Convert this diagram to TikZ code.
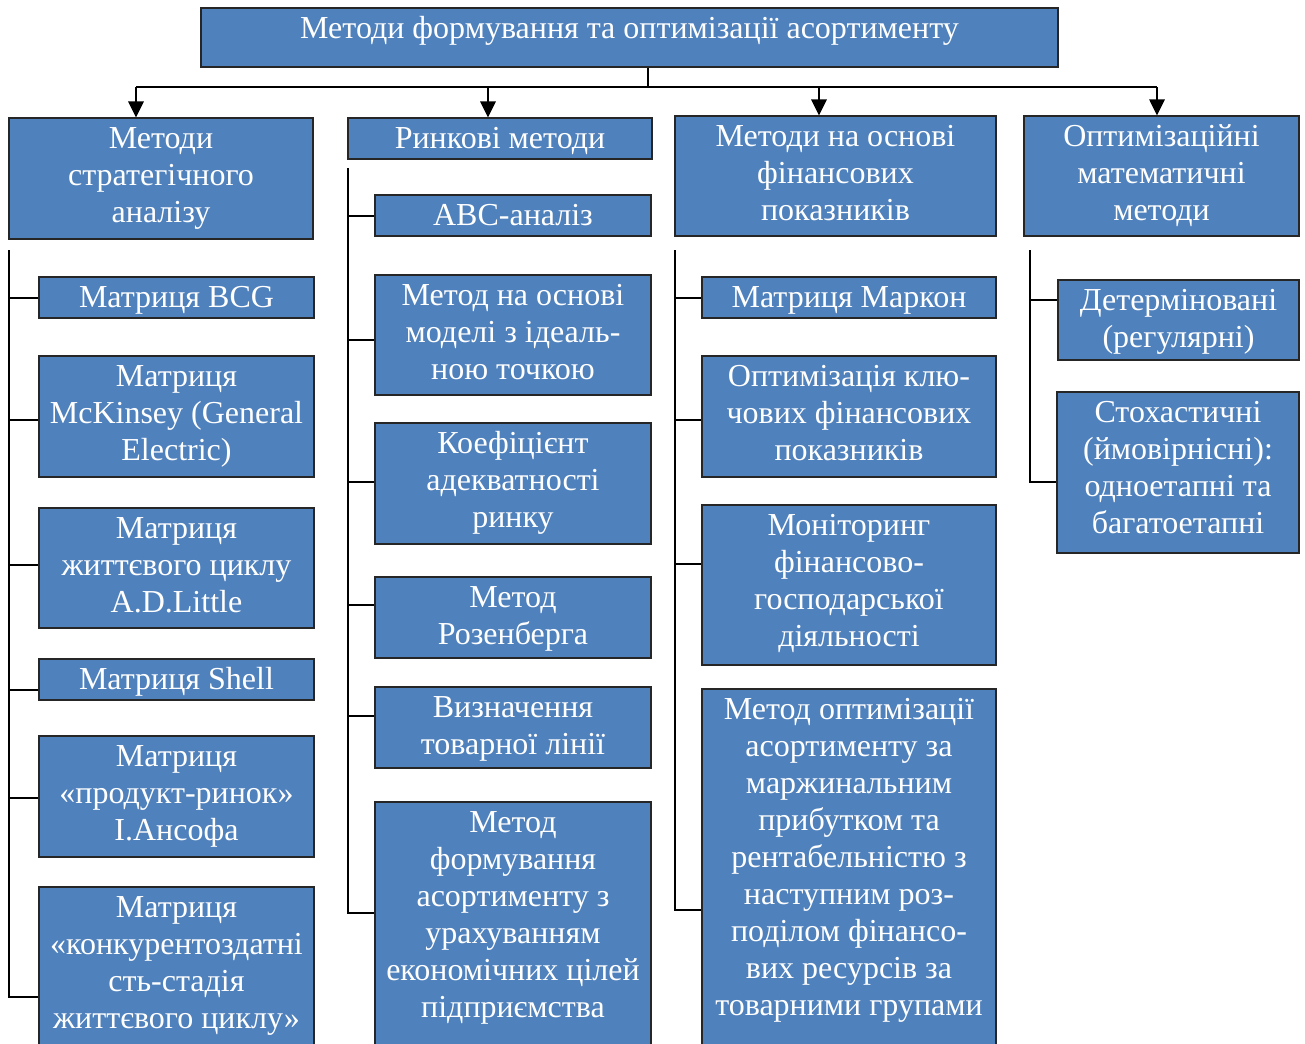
\documentclass[tikz,border=0pt]{standalone}
\usepackage{fontspec}
\setmainfont{Liberation Serif}
\usetikzlibrary{arrows.meta,fit}
\definecolor{boxblue}{HTML}{4F81BD}
\tikzset{
  box/.style={draw=black!85, line width=0.9pt, fill=boxblue, inner sep=0pt},
  lbl/.style={anchor=base, inner sep=0pt, text=white},
  link/.style={line width=1.5pt, draw=black},
  arr/.style={link, -{Triangle[width=11.5pt,length=12pt]}}
}
% \blk{name}{x1}{y1}{x2}{y2}{text}: filled box with centred, top-aligned lines
\newcommand{\blk}[6]{%
  \node[box, fit={(#2,#3) (#4,#5)}] (#1) {};
  \node[lbl] (#1-t) at ({(#2+#4)/2},{#3+30.5}) {\parbox[t]{700pt}{\centering\fontsize{24}{27.75}\selectfont #6}};
}
\begin{document}
\begin{tikzpicture}[x=0.75pt,y=-0.75pt]
\useasboundingbox (0,0) rectangle (1305,1043);
\clip (0,0) rectangle (1305,1043);

% root
\blk{root}{201}{8}{1058}{67}{Методи формування та оптимізації асортименту}

% first level
\blk{A}{9}{118}{313}{239}{Методи\\стратегічного\\аналізу}
\blk{B}{348}{118}{652}{159}{Ринкові методи}
\blk{C}{675}{116}{996}{236}{Методи на основі\\фінансових\\показників}
\blk{D}{1024}{116}{1299}{236}{Оптимізаційні\\математичні\\методи}

% distribution bus with arrows
\coordinate (busL) at (136,87);
\coordinate (busR) at (1157,87);
\draw[link] (root.south -| 648,0) -- (648,87);
\draw[link] (busL) -- (busR);
\draw[arr] (busL) -- (A.north -| busL);
\draw[arr] (488,87) -- (B.north -| 488,0);
\draw[arr] (819,87) -- (C.north -| 819,0);
\draw[arr] (busR) -- (D.north -| busR);

% column A
\blk{a1}{39}{277}{314}{318}{Матриця BCG}
\blk{a2}{39}{356}{314}{477}{Матриця\\McKinsey (General\\Electric)}
\blk{a3}{39}{508}{314}{628}{Матриця\\життєвого циклу\\A.D.Little}
\blk{a4}{39}{659}{314}{700}{Матриця Shell}
\blk{a5}{39}{736}{314}{857}{Матриця\\«продукт-ринок»\\І.Ансофа}
\blk{a6}{39}{887}{314}{1107}{Матриця\\«конкурентоздатні\\сть-стадія\\життєвого циклу»}
\coordinate (vA) at (9,250);
\draw[link] (vA) |- (a6.west |- 0,997);
\foreach \n/\y in {a1/298,a2/420,a3/565,a4/690,a5/798}
  \draw[link] (vA |- 0,\y) -- (\n.west |- 0,\y);

% column B
\blk{b1}{375}{195}{651}{236}{ABC-аналіз}
\blk{b2}{375}{275}{651}{395}{Метод на основі\\моделі з ідеаль-\\ною точкою}
\blk{b3}{375}{423}{651}{544}{Коефіцієнт\\адекватності\\ринку}
\blk{b4}{375}{577}{651}{658}{Метод\\Розенберга}
\blk{b5}{375}{687}{651}{768}{Визначення\\товарної лінії}
\blk{b6}{375}{802}{651}{1090}{Метод\\формування\\асортименту з\\урахуванням\\економічних цілей\\підприємства}
\coordinate (vB) at (348,168);
\draw[link] (vB) |- (b6.west |- 0,913);
\foreach \n/\y in {b1/216,b2/340,b3/482,b4/605,b5/716}
  \draw[link] (vB |- 0,\y) -- (\n.west |- 0,\y);

% column C
\blk{c1}{702}{277}{996}{318}{Матриця Маркон}
\blk{c2}{702}{356}{996}{477}{Оптимізація клю-\\чових фінансових\\показників}
\blk{c3}{702}{505}{996}{665}{Моніторинг\\фінансово-\\господарської\\діяльності}
\blk{c4}{702}{689}{996}{1090}{Метод оптимізації\\асортименту за\\маржинальним\\прибутком та\\рентабельністю з\\наступним роз-\\поділом фінансо-\\вих ресурсів за\\товарними групами}
\coordinate (vC) at (675,250);
\draw[link] (vC) |- (c4.west |- 0,910);
\foreach \n/\y in {c1/298,c2/420,c3/564}
  \draw[link] (vC |- 0,\y) -- (\n.west |- 0,\y);

% column D
\blk{d1}{1058}{280}{1299}{360}{Детерміновані\\(регулярні)}
\blk{d2}{1057}{392}{1299}{553}{Стохастичні\\(ймовірнісні):\\одноетапні та\\багатоетапні}
\coordinate (vD) at (1030,250);
\draw[link] (vD) |- (d2.west |- 0,482);
\draw[link] (vD |- 0,300) -- (d1.west |- 0,300);
\end{tikzpicture}
\end{document}
